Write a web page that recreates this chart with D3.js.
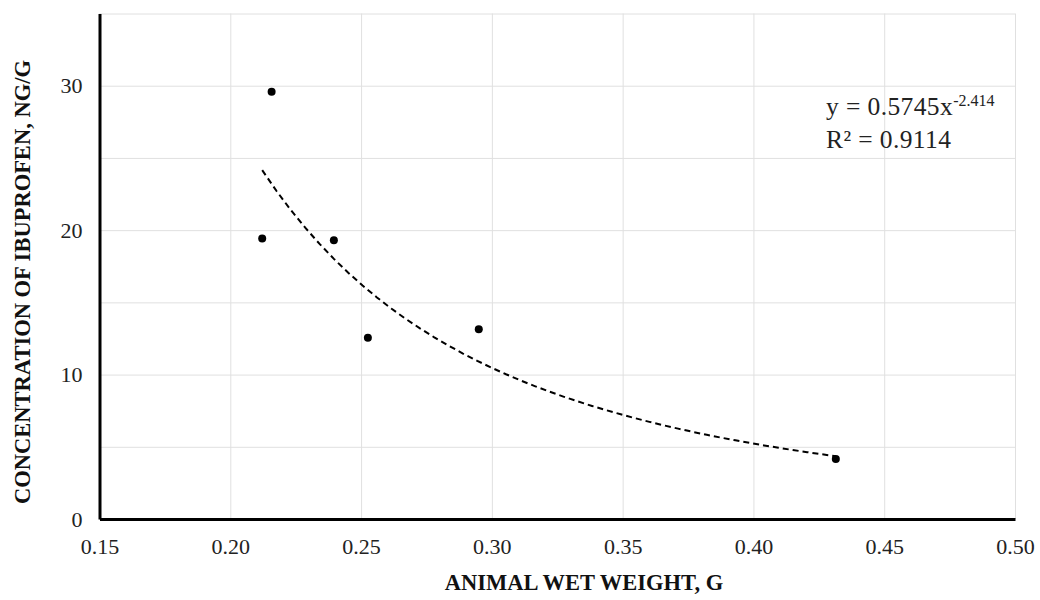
<!DOCTYPE html>
<html>
<head>
<meta charset="utf-8">
<script src="https://cdn.jsdelivr.net/npm/d3@7"></script>
<style>
  body { margin: 0; background: #fff; }
  svg { display: block; font-family: "Liberation Serif", "Times New Roman", serif; }
  .grid line { stroke: #e0e0e0; stroke-width: 1; }
  .grid .domain { display: none; }
  .axis .domain { stroke: #000; stroke-width: 3; }
  .axis text { font-family: "Liberation Serif", "Times New Roman", serif; font-size: 22px; fill: #222; }
  .title { font-size: 22.5px; font-weight: bold; fill: #111; }
</style>
</head>
<body>
<svg width="1040" height="600"></svg>
<script>
// animal wet weight (g) and ibuprofen concentration (ng/g)
const weights = [0.2158, 0.2122, 0.2396, 0.2526, 0.2950, 0.4315];
const concentrations = [29.58, 19.42, 19.30, 12.55, 13.13, 4.15];

const xTicks = [0.15, 0.20, 0.25, 0.30, 0.35, 0.40, 0.45, 0.50];
const yTicks = [0, 10, 20, 30];
const yGrid = [0, 5, 10, 15, 20, 25, 30, 35];

const eqText = "y = 0.5745x";
const eqExp = "-2.414";
const r2Text = "R² = 0.9114";

const svg = d3.select("svg"),
  margin = {top: 13.5, right: 25, bottom: 81, left: 99.5},
  width = 1040 - margin.left - margin.right,
  height = 600 - margin.top - margin.bottom;

const g = svg.append("g").attr("transform", `translate(${margin.left},${margin.top})`);

const x = d3.scaleLinear().domain([0.15, 0.50]).range([0, width]);
const y = d3.scaleLinear().domain([0, 35]).range([height, 0]);

// gridlines
g.append("g").attr("class", "grid")
  .attr("transform", `translate(0,${height})`)
  .call(d3.axisBottom(x).tickValues(xTicks).tickSize(-height).tickFormat(""));
g.append("g").attr("class", "grid")
  .call(d3.axisLeft(y).tickValues(yGrid).tickSize(-width).tickFormat(""));

// power trendline fitted in log-log space
const lx = weights.map(Math.log), ly = concentrations.map(Math.log);
const mx = d3.mean(lx), my = d3.mean(ly);
const b = d3.sum(lx, (v, i) => (v - mx) * (ly[i] - my)) / d3.sum(lx, v => (v - mx) ** 2);
const a = Math.exp(my - b * mx);
const [xmin, xmax] = d3.extent(weights);
const trend = d3.range(0, 41).map(i => {
  const xv = xmin + (xmax - xmin) * i / 40;
  return [xv, a * Math.pow(xv, b)];
});

g.append("path")
  .datum(trend)
  .attr("fill", "none")
  .attr("stroke", "#000")
  .attr("stroke-width", 2)
  .attr("stroke-dasharray", "6,4")
  .attr("d", d3.line().x(d => x(d[0])).y(d => y(d[1])));

// points
g.selectAll("circle.pt")
  .data(weights)
  .enter().append("circle")
  .attr("class", "pt")
  .attr("cx", d => x(d))
  .attr("cy", (d, i) => y(concentrations[i]))
  .attr("r", 4)
  .attr("fill", "#000");

// axes
g.append("g").attr("class", "axis")
  .attr("transform", `translate(0,${height})`)
  .call(d3.axisBottom(x).tickValues(xTicks).tickSize(0).tickPadding(19).tickFormat(d3.format(".2f")));
g.append("g").attr("class", "axis")
  .call(d3.axisLeft(y).tickValues(yTicks).tickSize(0).tickPadding(17).tickFormat(d3.format("d")));

// equation label
const eq = svg.append("text")
  .attr("x", 826).attr("y", 115)
  .attr("font-size", 25.5).attr("letter-spacing", 0.4).attr("fill", "#222");
eq.append("tspan").text(eqText);
eq.append("tspan").attr("font-size", 16).attr("letter-spacing", 0).attr("dy", -9).text(eqExp);
svg.append("text")
  .attr("x", 826).attr("y", 148)
  .attr("font-size", 25.5).attr("letter-spacing", 0.4).attr("fill", "#222")
  .text(r2Text);

// axis titles
svg.append("text").attr("class", "title")
  .attr("x", 584).attr("y", 590)
  .attr("text-anchor", "middle")
  .text("ANIMAL WET WEIGHT, G");
svg.append("text").attr("class", "title")
  .attr("transform", "translate(30,282) rotate(-90)")
  .attr("text-anchor", "middle")
  .text("CONCENTRATION OF IBUPROFEN, NG/G");
</script>
</body>
</html>
